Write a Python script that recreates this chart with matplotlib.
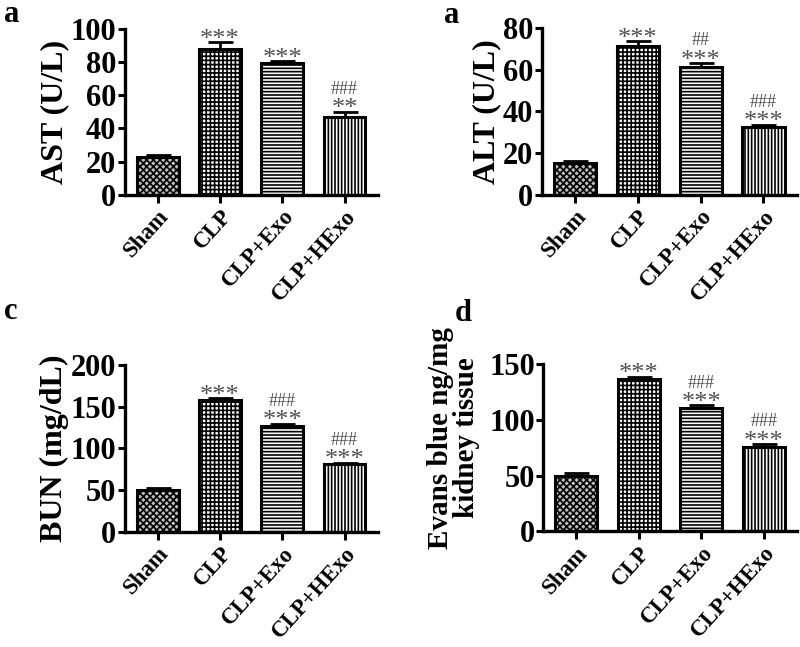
import matplotlib
matplotlib.use('Agg')
import matplotlib.pyplot as plt
import numpy as np

groups = ['Sham', 'CLP', 'CLP+Exo', 'CLP+HExo']

ast_mean = [22.5, 88, 79.5, 47]
ast_err = [1.2, 4, 1, 3]
ast_stars = ['', '***', '***', '**']
ast_hash = ['', '', '', '###']

alt_mean = [15, 71.5, 61, 32.5]
alt_err = [1, 2, 2, 1]
alt_stars = ['', '***', '***', '***']
alt_hash = ['', '', '##', '###']

bun_mean = [50, 158, 127, 81]
bun_err = [2.5, 2, 2.5, 2]
bun_stars = ['', '***', '***', '***']
bun_hash = ['', '', '###', '###']

evans_mean = [50, 137, 111, 76]
evans_err = [2, 2, 2, 2]
evans_stars = ['', '***', '***', '***']
evans_hash = ['', '', '###', '###']

plt.rcParams['font.family'] = ['Liberation Serif', 'DejaVu Serif']
plt.rcParams['font.weight'] = 'bold'
plt.rcParams['axes.labelweight'] = 'bold'
plt.rcParams['hatch.linewidth'] = 1.2

hatches = ['xxxxx', '++++', '-----', '|||||']
faces = ['#bdbdbd', 'white', 'white', 'white']


def draw_panel(ax, mean, err, stars, hashes, ylabel, yticks, lsize=23, lpad=1):
    x = np.arange(len(groups))
    for i in range(len(groups)):
        ax.bar(x[i], mean[i], width=0.67, color=faces[i], edgecolor='black',
               hatch=hatches[i], linewidth=2.2, zorder=2)
    ax.errorbar(x, mean, yerr=[np.zeros(len(err)), err], fmt='none',
                ecolor='black', elinewidth=2, capsize=9, capthick=2, zorder=3)
    for i in range(len(groups)):
        top = mean[i] + err[i]
        if stars[i]:
            ax.annotate(stars[i], (x[i], top), xytext=(0, -6), textcoords='offset points',
                        ha='center', va='bottom', fontsize=19, fontweight='normal',
                        color='#505050')
        if hashes[i]:
            ax.annotate(hashes[i], (x[i], top), xytext=(0, 10), textcoords='offset points',
                        ha='center', va='bottom', fontsize=13, fontweight='normal',
                        color='#505050')
    ax.set_xlim(-0.53, 3.53)
    ax.set_ylim(0, yticks[-1])
    ax.set_yticks(yticks)
    ax.set_xticks(x)
    ax.set_xticklabels(groups, rotation=48, ha='right', rotation_mode='anchor', fontsize=16.5)
    ax.tick_params(axis='y', labelsize=22, width=2.2, length=5, pad=1)
    ax.tick_params(axis='x', width=2.2, length=6, pad=2)
    ax.spines['top'].set_visible(False)
    ax.spines['right'].set_visible(False)
    ax.spines['left'].set_linewidth(2.4)
    ax.spines['bottom'].set_linewidth(2.4)
    ax.set_ylabel(ylabel, fontsize=lsize, fontweight='bold', labelpad=lpad, linespacing=0.95)


fig = plt.figure(figsize=(8, 6.47), dpi=100)
ax1 = fig.add_axes([0.156, 0.699, 0.316, 0.256])
ax2 = fig.add_axes([0.677, 0.699, 0.319, 0.258])
ax3 = fig.add_axes([0.156, 0.178, 0.316, 0.258])
ax4 = fig.add_axes([0.679, 0.179, 0.317, 0.258])

draw_panel(ax1, ast_mean, ast_err, ast_stars, ast_hash, 'AST (U/L)', [0, 20, 40, 60, 80, 100])
draw_panel(ax2, alt_mean, alt_err, alt_stars, alt_hash, 'ALT (U/L)', [0, 20, 40, 60, 80])
draw_panel(ax3, bun_mean, bun_err, bun_stars, bun_hash, 'BUN (mg/dL)', [0, 50, 100, 150, 200])
draw_panel(ax4, evans_mean, evans_err, evans_stars, evans_hash,
           'Evans blue ng/mg\nkidney tissue', [0, 50, 100, 150], lsize=21)
# the two-line label sits a little above the axes centre in the original
ax4.yaxis.set_label_coords(-0.25, 0.56)

fig.text(0.014, 0.978, 'a', fontsize=22, ha='center', va='center')
fig.text(0.565, 0.976, 'a', fontsize=22, ha='center', va='center')
fig.text(0.014, 0.519, 'c', fontsize=22, ha='center', va='center')
fig.text(0.579, 0.515, 'd', fontsize=22, ha='center', va='center')

fig.savefig('out.png', dpi=100, facecolor='white')
